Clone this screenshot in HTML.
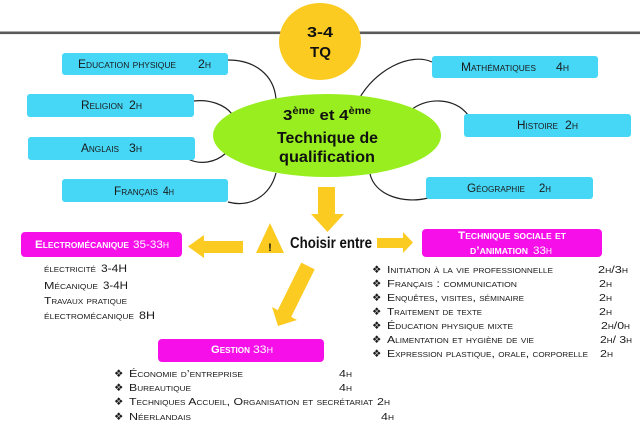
<!DOCTYPE html>
<html><head><meta charset="utf-8"><style>
html,body{margin:0;padding:0;background:#fff;}
svg{display:block;}
.sc{font-family:"Liberation Sans",sans-serif;font-variant:small-caps;}
.n{font-family:"Liberation Sans",sans-serif;}
</style></head><body>
<svg width="640" height="434" viewBox="0 0 640 434" xmlns="http://www.w3.org/2000/svg">
<rect width="640" height="434" fill="#fff"/>
<!-- top line -->
<rect x="0" y="31.5" width="640" height="2.6" fill="#5a5a5a"/>
<!-- circle -->
<ellipse cx="320" cy="41.5" rx="41" ry="38.5" fill="#FBCB22"/>
<text class="n" x="307" y="37" font-size="15" font-weight="bold" fill="#111" textLength="26" lengthAdjust="spacingAndGlyphs">3-4</text>
<text class="n" x="310" y="57" font-size="15" font-weight="bold" fill="#111" textLength="21" lengthAdjust="spacingAndGlyphs">TQ</text>

<!-- connectors -->
<g fill="none" stroke="#222" stroke-width="1.2">
<path d="M228,60 C255,60 274,75 276,99"/>
<path d="M194,101 C210,99 225,105 232,114"/>
<path d="M188,159 C200,165 215,163 226,153"/>
<path d="M228,202 C250,208 270,196 276,173"/>
<path d="M432,62 C410,52 375,70 359,99"/>
<path d="M468,115 C455,97 425,97 410,111"/>
<path d="M428,198 C405,204 375,196 370,174"/>
</g>

<!-- ellipse -->
<ellipse cx="327" cy="135.5" rx="114" ry="41.5" fill="#98EE1F"/>
<text class="n" x="283" y="120" font-size="15" font-weight="bold" fill="#111" textLength="88" lengthAdjust="spacingAndGlyphs">3<tspan font-size="10" dy="-6">ème</tspan><tspan dy="6"> et 4</tspan><tspan font-size="10" dy="-6">ème</tspan></text>
<text class="n" x="277" y="143" font-size="16" font-weight="bold" fill="#111" textLength="101" lengthAdjust="spacingAndGlyphs">Technique de</text>
<text class="n" x="279" y="162" font-size="16" font-weight="bold" fill="#111" textLength="96" lengthAdjust="spacingAndGlyphs">qualification</text>

<!-- blue boxes -->
<g fill="#46D7F7">
<rect x="62" y="53" width="166" height="22" rx="3"/>
<rect x="27" y="94" width="167" height="23" rx="3"/>
<rect x="28" y="137" width="167" height="23" rx="3"/>
<rect x="62" y="179" width="166" height="23" rx="3"/>
<rect x="432" y="56" width="166" height="22" rx="3"/>
<rect x="464" y="114" width="167" height="23" rx="3"/>
<rect x="426" y="177" width="167" height="22" rx="3"/>
</g>
<g fill="#1a1a1a" font-size="11.5">
<text class="sc" x="78" y="68" textLength="98" lengthAdjust="spacingAndGlyphs">Education physique</text>
<text class="sc" x="198" y="68" textLength="13" lengthAdjust="spacingAndGlyphs">2h</text>
<text class="sc" x="81" y="109" textLength="42" lengthAdjust="spacingAndGlyphs">Religion</text>
<text class="sc" x="129" y="109" textLength="13" lengthAdjust="spacingAndGlyphs">2h</text>
<text class="sc" x="81" y="152" textLength="38" lengthAdjust="spacingAndGlyphs">Anglais</text>
<text class="sc" x="129" y="152" textLength="13" lengthAdjust="spacingAndGlyphs">3h</text>
<text class="sc" x="114" y="195" textLength="44" lengthAdjust="spacingAndGlyphs">Français</text>
<text class="sc" x="163" y="195" textLength="11" lengthAdjust="spacingAndGlyphs">4h</text>
<text class="sc" x="461" y="71" textLength="75" lengthAdjust="spacingAndGlyphs">Mathématiques</text>
<text class="sc" x="556" y="71" textLength="13" lengthAdjust="spacingAndGlyphs">4h</text>
<text class="sc" x="517" y="129" textLength="41" lengthAdjust="spacingAndGlyphs">Histoire</text>
<text class="sc" x="565" y="129" textLength="13" lengthAdjust="spacingAndGlyphs">2h</text>
<text class="sc" x="467" y="192" textLength="58" lengthAdjust="spacingAndGlyphs">Géographie</text>
<text class="sc" x="539" y="192" textLength="12" lengthAdjust="spacingAndGlyphs">2h</text>
</g>

<!-- arrows -->
<g fill="#FBCB22">
<polygon points="318,187 335,187 335,214 344,214 327.5,232 311,214 318,214"/>
<polygon points="243,241 243,253 204,253 204,258 188,246.5 204,235 204,241"/>
<polygon points="377,238 403,238 403,232 413,242.5 403,253 403,248 377,248"/>
<polygon points="301.3,262.6 314.7,269.4 291.2,316.9 297,320 278,326 272,307 277.8,310.1"/>
<polygon points="270,223 284,253 256,253"/>
</g>
<text class="n" x="270" y="251" font-size="11" font-weight="bold" fill="#111" text-anchor="middle">!</text>
<text class="n" x="290" y="248" font-size="16" font-weight="bold" fill="#111" textLength="82" lengthAdjust="spacingAndGlyphs">Choisir entre</text>

<!-- magenta boxes -->
<g fill="#F70FEA">
<rect x="21" y="232" width="161" height="25" rx="4"/>
<rect x="422" y="229" width="180" height="28" rx="4"/>
<rect x="158" y="339" width="166" height="23" rx="4"/>
</g>
<g fill="#fff" font-size="11">
<text class="sc" x="35" y="248" font-weight="bold" textLength="94" lengthAdjust="spacingAndGlyphs">Electromécanique</text>
<text class="sc" x="133" y="248" textLength="36" lengthAdjust="spacingAndGlyphs">35-33h</text>
<text class="sc" x="458" y="239" font-weight="bold" textLength="108" lengthAdjust="spacingAndGlyphs">Technique sociale et</text>
<text class="sc" x="470" y="254" font-weight="bold" textLength="58" lengthAdjust="spacingAndGlyphs">d’animation</text>
<text class="sc" x="533" y="254" textLength="19" lengthAdjust="spacingAndGlyphs">33h</text>
<text class="sc" x="211" y="353" font-weight="bold" textLength="39" lengthAdjust="spacingAndGlyphs">Gestion</text>
<text class="sc" x="253" y="353" textLength="20" lengthAdjust="spacingAndGlyphs">33h</text>
</g>

<!-- electro items -->
<g fill="#1a1a1a" font-size="10.5">
<text class="sc" x="44" y="272" textLength="52" lengthAdjust="spacingAndGlyphs">électricité</text>
<text class="n" x="101" y="272" font-size="11" textLength="26" lengthAdjust="spacingAndGlyphs">3-4H</text>
<text class="sc" x="44" y="289" textLength="54" lengthAdjust="spacingAndGlyphs">Mécanique</text>
<text class="n" x="103" y="289" font-size="11" textLength="25" lengthAdjust="spacingAndGlyphs">3-4H</text>
<text class="sc" x="44" y="304" textLength="83" lengthAdjust="spacingAndGlyphs">Travaux pratique</text>
<text class="sc" x="44" y="319" textLength="90" lengthAdjust="spacingAndGlyphs">électromécanique</text>
<text class="n" x="139" y="319" font-size="11" textLength="16" lengthAdjust="spacingAndGlyphs">8H</text>
</g>

<!-- right list -->
<g fill="#1a1a1a" font-size="10.5">
<g font-family="DejaVu Sans, sans-serif" font-size="10.5">
<text x="372" y="273">❖</text><text x="372" y="287">❖</text><text x="372" y="301">❖</text><text x="372" y="315">❖</text><text x="372" y="329">❖</text><text x="372" y="343">❖</text><text x="372" y="357">❖</text>
<text x="114" y="377">❖</text><text x="114" y="391">❖</text><text x="114" y="405">❖</text><text x="114" y="420">❖</text>
</g>
<text class="sc" x="387" y="273" textLength="166" lengthAdjust="spacingAndGlyphs">Initiation à la vie professionnelle</text>
<text class="sc" x="598" y="273" textLength="30" lengthAdjust="spacingAndGlyphs">2h/3h</text>
<text class="sc" x="387" y="287" textLength="130" lengthAdjust="spacingAndGlyphs">Français : communication</text>
<text class="sc" x="599" y="287" textLength="13" lengthAdjust="spacingAndGlyphs">2h</text>
<text class="sc" x="387" y="301" textLength="137" lengthAdjust="spacingAndGlyphs">Enquêtes, visites, séminaire</text>
<text class="sc" x="599" y="301" textLength="13" lengthAdjust="spacingAndGlyphs">2h</text>
<text class="sc" x="387" y="315" textLength="95" lengthAdjust="spacingAndGlyphs">Traitement de texte</text>
<text class="sc" x="599" y="315" textLength="13" lengthAdjust="spacingAndGlyphs">2h</text>
<text class="sc" x="387" y="329" textLength="126" lengthAdjust="spacingAndGlyphs">Éducation physique mixte</text>
<text class="sc" x="601" y="329" textLength="29" lengthAdjust="spacingAndGlyphs">2h/0h</text>
<text class="sc" x="387" y="343" textLength="147" lengthAdjust="spacingAndGlyphs">Alimentation et hygiène de vie</text>
<text class="sc" x="600" y="343" textLength="32" lengthAdjust="spacingAndGlyphs">2h/ 3h</text>
<text class="sc" x="387" y="357" textLength="201" lengthAdjust="spacingAndGlyphs">Expression plastique, orale, corporelle</text>
<text class="sc" x="600" y="357" textLength="13" lengthAdjust="spacingAndGlyphs">2h</text>

<text class="sc" x="129" y="377" textLength="114" lengthAdjust="spacingAndGlyphs">Économie d’entreprise</text>
<text class="sc" x="339" y="377" textLength="13" lengthAdjust="spacingAndGlyphs">4h</text>
<text class="sc" x="129" y="391" textLength="62" lengthAdjust="spacingAndGlyphs">Bureautique</text>
<text class="sc" x="339" y="391" textLength="13" lengthAdjust="spacingAndGlyphs">4h</text>
<text class="sc" x="129" y="405" textLength="244" lengthAdjust="spacingAndGlyphs">Techniques Accueil, Organisation et secrétariat</text>
<text class="sc" x="377" y="405" textLength="13" lengthAdjust="spacingAndGlyphs">2h</text>
<text class="sc" x="129" y="420" textLength="62" lengthAdjust="spacingAndGlyphs">Néerlandais</text>
<text class="sc" x="381" y="420" textLength="13" lengthAdjust="spacingAndGlyphs">4h</text>
</g>
</svg>
</body></html>
